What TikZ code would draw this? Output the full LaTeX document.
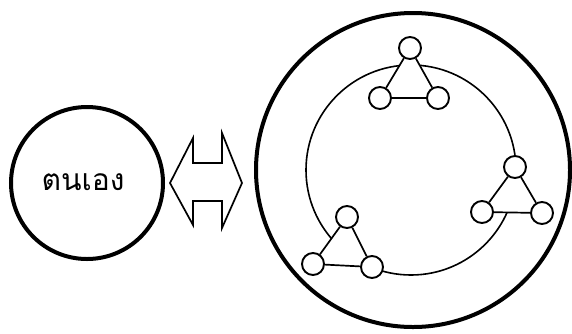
\documentclass[tikz,border=0pt]{standalone}
\usepackage{fontspec}
\newfontfamily\thaifont[Script=Thai]{Loma}
\begin{document}
\begin{tikzpicture}[x=1pt, y=-1pt, every node/.style={circle,draw,line width=1.9pt,fill=white,minimum size=22pt,inner sep=0pt}]
			\useasboundingbox (0,0) rectangle (572,333);
			\draw[line width=4pt] (87,183) circle (76);
			\node[draw=none,fill=none,rectangle] (self) at (83,182) {\thaifont\fontsize{30}{30}\selectfont ตนเอง};
			\draw[line width=1.7pt, line join=miter] (170,183) -- (193,138) -- (193,163) -- (222,163) -- (222,133) -- (242,183) -- (222,228) -- (222,201) -- (193,201) -- (193,225) -- cycle;
			\draw[line width=4pt] (413,170) circle (157);
			\draw[line width=1.6pt] (411,170) circle (105);
			\fill[white] (410,48) -- (380,98) -- (438,98) -- cycle;
			\fill[white] (515,167) -- (482,212) -- (542,213) -- cycle;
			\fill[white] (347,217) -- (313,264) -- (372,267) -- cycle;
			\node(A1) at (410,48) {};
			\node(A2) at (380,98) {};
			\node(A3) at (438,98) {};
			\node(B1) at (515,167) {};
			\node(B2) at (482,212) {};
			\node(B3) at (542,213) {};
			\node(C1) at (347,217) {};
			\node(C2) at (313,264) {};
			\node(C3) at (372,267) {};
			\draw[line width=1.7pt] (A1) -- (A2);
			\draw[line width=1.7pt] (A2) -- (A3);
			\draw[line width=1.7pt] (A3) -- (A1);
			\draw[line width=1.7pt] (B1) -- (B2);
			\draw[line width=1.7pt] (B2) -- (B3);
			\draw[line width=1.7pt] (B3) -- (B1);
			\draw[line width=1.7pt] (C1) -- (C2);
			\draw[line width=1.7pt] (C2) -- (C3);
			\draw[line width=1.7pt] (C3) -- (C1);
		\end{tikzpicture}
\end{document}
